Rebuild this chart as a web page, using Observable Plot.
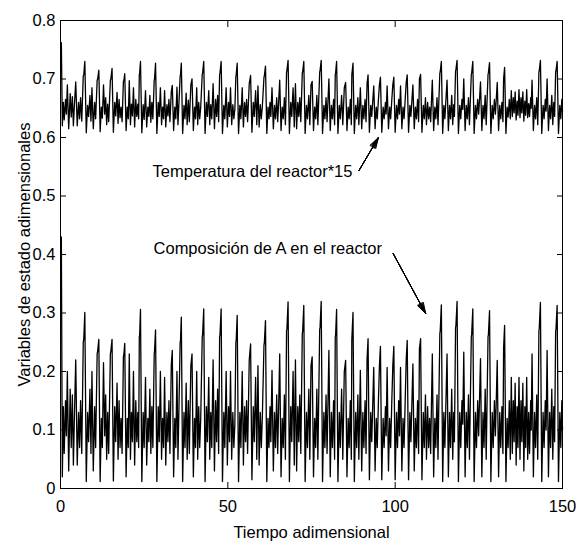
<!DOCTYPE html>
<html>
<head>
<meta charset="utf-8">
<script src="https://cdn.jsdelivr.net/npm/d3@7"></script>
<script src="https://cdn.jsdelivr.net/npm/@observablehq/plot@0.6"></script>
<style>
  html, body { margin: 0; padding: 0; background: #fff; }
  #chart svg { display: block; }
</style>
</head>
<body>
<div id="chart"></div>
<script>
// ---- Tick values and labels ----
const xTicks = [0, 50, 100, 150];
const xTickLabels = ["0", "50", "100", "150"];
const yTicks = [0, 0.1, 0.2, 0.3, 0.4, 0.5, 0.6, 0.7, 0.8];
const yTickLabels = ["0", "0.1", "0.2", "0.3", "0.4", "0.5", "0.6", "0.7", "0.8"];

const xTitle = "Tiempo adimensional";
const yTitle = "Variables de estado adimensionales";

// ---- Time samples (turning points) ----
const tiempo = [
  0.25, 0.55, 0.85, 1.1, 1.5, 1.75, 2.05, 2.45, 2.9, 3.2, 3.55, 3.85, 4.15, 4.55, 5.0, 5.4, 5.7, 6.0, 6.35, 6.8, 6.95, 7.27, 7.7,
  8.1, 8.4, 8.8, 9.1, 9.4, 9.8, 10.2, 10.5, 10.95, 11.1, 11.45, 11.85,
  12.2, 12.5, 12.85, 13.2, 13.5, 13.8, 14.1, 14.4, 14.9, 15.05, 15.4, 15.8,
  16.2, 16.5, 16.9, 17.2, 17.5, 17.8, 18.1, 18.4, 18.8, 18.95, 19.2, 19.6,
  19.95, 20.25, 20.55, 20.9, 21.2, 21.5, 21.8, 22.15, 22.5, 22.8, 23.1, 23.35, 23.55, 23.65, 23.9, 24.3,
  24.7, 25.0, 25.4, 25.75, 26.1, 26.4, 26.7, 27.0, 27.3, 27.6, 28.0, 28.1, 28.4, 28.8,
  29.2, 29.5, 29.85, 30.2, 30.5, 30.8, 31.1, 31.45, 31.8, 32.1, 32.4, 32.7, 33.1, 33.4, 33.8,
  34.15, 34.45, 34.8, 35.1, 35.4, 35.75, 35.85, 36.1, 36.5,
  36.9, 37.2, 37.55, 37.85, 38.2, 38.5, 38.95, 39.3, 39.7,
  40.05, 40.35, 40.7, 41.0, 41.3, 41.6, 41.9, 42.35, 42.45, 42.8, 43.2,
  43.6, 43.9, 44.3, 44.6, 44.9, 45.2, 45.6, 46.0, 46.35, 46.65, 46.95, 47.25, 47.55, 47.65, 48.0, 48.4,
  48.8, 49.1, 49.5, 49.85, 50.2, 50.5, 50.8, 51.15, 51.5, 51.8, 52.1, 52.4, 52.5, 52.8, 53.2,
  53.6, 53.9, 54.3, 54.65, 55.0, 55.3, 55.6, 55.9, 56.4, 56.8, 57.2,
  57.6, 57.9, 58.3, 58.65, 59.0, 59.35, 59.7, 60.0, 60.3, 60.8, 60.9, 61.25, 61.65,
  62.0, 62.3, 62.6, 62.85, 63.2, 63.6,
  63.95, 64.25, 64.6, 64.9, 65.5, 65.9,
  66.25, 66.55, 66.9, 67.2, 67.55, 67.65, 68.0, 68.4,
  68.8, 69.1, 69.5, 69.85, 70.2, 70.55, 70.9, 71.2, 71.5, 71.8, 72.25, 72.35, 72.7, 73.1,
  73.5, 73.8, 74.2, 74.5, 74.85, 75.2, 75.6,
  75.95, 76.25, 76.6, 76.9, 77.45, 77.55, 77.9, 78.3,
  78.7, 79.0, 79.35, 79.65, 80.2, 80.6,
  80.95, 81.25, 81.6, 81.9, 82.1, 82.2, 82.5, 82.9,
  83.3, 83.6, 84.0, 84.35, 84.8, 85.2, 85.6,
  85.95, 86.25, 86.6, 86.9, 87.05, 87.4, 87.8,
  88.2, 88.5, 88.85, 89.15, 89.6, 90.0,
  90.35, 90.65, 91.0, 91.3, 91.6, 91.9, 92.3,
  92.7, 93.0, 93.6, 94.0,
  94.35, 94.65, 95.0, 95.3, 95.6, 96.0,
  96.4, 96.7, 97.1, 97.3, 97.6, 98.0,
  98.35, 98.65, 99.0, 99.3, 99.6, 100.0,
  100.4, 100.7, 101.05, 101.3, 101.6, 102.0,
  102.35, 102.65, 103.0, 103.3, 103.6, 104.0,
  104.4, 104.7, 105.3, 105.7,
  106.05, 106.35, 106.7, 107.0, 107.25, 107.35, 107.6, 108.0,
  108.4, 108.7, 109.05, 109.35, 109.7, 110.0, 110.3, 110.6, 111.1, 111.5,
  111.85, 112.15, 112.5, 112.8, 113.35, 113.45, 113.8, 114.2,
  114.55, 114.85, 115.5, 115.9,
  116.25, 116.55, 116.9, 117.2, 117.5, 117.7, 118.05, 118.15, 118.5, 118.9,
  119.3, 119.6, 119.95, 120.2, 120.5, 120.9,
  121.25, 121.55, 121.9, 122.2, 122.75, 122.85, 123.2, 123.6,
  124.0, 124.3, 124.65, 124.95, 125.5, 125.9,
  126.25, 126.55, 126.9, 127.2, 127.75, 127.85, 128.2, 128.6,
  129.0, 129.3, 129.65, 129.95, 130.5, 130.9,
  131.25, 131.55, 131.9, 132.2, 132.4, 132.7, 133.1,
  133.45, 133.75, 134.1, 134.4, 134.7, 135.0, 135.3, 135.55, 135.85, 136.15, 136.45, 136.7, 137.0, 137.3, 137.6, 137.85, 138.15, 138.45, 138.75, 139.0, 139.3, 139.6, 139.9, 140.15, 140.5, 140.65, 140.9, 141.3,
  141.65, 141.95, 142.3, 142.6, 142.95, 143.05, 143.4, 143.8,
  144.2, 144.5, 144.85, 145.1, 145.4, 145.8,
  146.15, 146.45, 146.8, 147.1, 147.4, 147.65, 147.95, 148.05, 148.4, 148.8,
  149.2, 149.5, 149.8, 150
];

// ---- Composición de A en el reactor ----
const composicion = [
  0.43, 0.02, 0.14, 0.06, 0.15, 0.09, 0.2, 0.03, 0.17, 0.07, 0.16, 0.04, 0.12, 0.22, 0.04, 0.13, 0.07, 0.15, 0.06, 0.25, 0.255, 0.301, 0.012,
  0.13, 0.08, 0.17, 0.06, 0.2, 0.03, 0.14, 0.07, 0.23, 0.235, 0.255, 0.012,
  0.12, 0.07, 0.215, 0.09, 0.16, 0.05, 0.13, 0.06, 0.23, 0.235, 0.255, 0.013,
  0.14, 0.08, 0.18, 0.05, 0.15, 0.07, 0.12, 0.06, 0.225, 0.23, 0.248, 0.02,
  0.12, 0.07, 0.23, 0.05, 0.13, 0.08, 0.2, 0.04, 0.15, 0.08, 0.13, 0.07, 0.26, 0.262, 0.306, 0.012,
  0.13, 0.07, 0.19, 0.04, 0.12, 0.08, 0.17, 0.06, 0.14, 0.07, 0.23, 0.235, 0.271, 0.012,
  0.14, 0.08, 0.2, 0.05, 0.12, 0.07, 0.19, 0.04, 0.13, 0.08, 0.15, 0.06, 0.21, 0.236, 0.02,
  0.12, 0.07, 0.2, 0.05, 0.14, 0.25, 0.252, 0.293, 0.012,
  0.13, 0.07, 0.18, 0.05, 0.15, 0.06, 0.21, 0.23, 0.02,
  0.12, 0.07, 0.2, 0.05, 0.14, 0.07, 0.12, 0.26, 0.262, 0.307, 0.012,
  0.14, 0.08, 0.19, 0.05, 0.13, 0.07, 0.22, 0.03, 0.15, 0.08, 0.17, 0.06, 0.26, 0.262, 0.307, 0.012,
  0.13, 0.07, 0.2, 0.04, 0.14, 0.08, 0.2, 0.05, 0.13, 0.07, 0.11, 0.25, 0.253, 0.296, 0.012,
  0.13, 0.07, 0.2, 0.04, 0.14, 0.08, 0.15, 0.06, 0.22, 0.247, 0.015,
  0.14, 0.08, 0.19, 0.05, 0.21, 0.04, 0.13, 0.07, 0.12, 0.245, 0.248, 0.287, 0.012,
  0.12, 0.07, 0.14, 0.08, 0.202, 0.03,
  0.13, 0.07, 0.16, 0.06, 0.23, 0.02,
  0.12, 0.07, 0.16, 0.05, 0.27, 0.272, 0.319, 0.012,
  0.14, 0.08, 0.2, 0.04, 0.22, 0.03, 0.14, 0.08, 0.16, 0.06, 0.265, 0.268, 0.313, 0.012,
  0.13, 0.07, 0.17, 0.05, 0.21, 0.225, 0.02,
  0.12, 0.07, 0.17, 0.05, 0.272, 0.275, 0.32, 0.012,
  0.13, 0.07, 0.16, 0.06, 0.236, 0.02,
  0.13, 0.07, 0.15, 0.05, 0.26, 0.262, 0.306, 0.012,
  0.13, 0.07, 0.17, 0.05, 0.2, 0.219, 0.02,
  0.12, 0.07, 0.15, 0.05, 0.255, 0.301, 0.012,
  0.13, 0.07, 0.16, 0.05, 0.202, 0.03,
  0.13, 0.07, 0.15, 0.06, 0.22, 0.256, 0.015,
  0.13, 0.08, 0.207, 0.03,
  0.12, 0.07, 0.15, 0.21, 0.243, 0.015,
  0.12, 0.07, 0.14, 0.09, 0.207, 0.03,
  0.12, 0.07, 0.15, 0.21, 0.243, 0.015,
  0.13, 0.07, 0.15, 0.09, 0.207, 0.03,
  0.12, 0.07, 0.15, 0.22, 0.253, 0.015,
  0.13, 0.08, 0.213, 0.03,
  0.12, 0.07, 0.15, 0.06, 0.24, 0.243, 0.256, 0.015,
  0.13, 0.07, 0.16, 0.05, 0.14, 0.07, 0.12, 0.06, 0.23, 0.02,
  0.12, 0.07, 0.16, 0.05, 0.265, 0.268, 0.314, 0.012,
  0.13, 0.07, 0.23, 0.02,
  0.13, 0.07, 0.17, 0.05, 0.13, 0.08, 0.275, 0.278, 0.32, 0.012,
  0.13, 0.07, 0.15, 0.11, 0.233, 0.02,
  0.13, 0.07, 0.16, 0.05, 0.26, 0.263, 0.307, 0.012,
  0.13, 0.07, 0.15, 0.09, 0.222, 0.02,
  0.13, 0.07, 0.17, 0.05, 0.26, 0.262, 0.304, 0.012,
  0.13, 0.07, 0.15, 0.09, 0.219, 0.02,
  0.13, 0.07, 0.14, 0.06, 0.24, 0.279, 0.012,
  0.12, 0.07, 0.15, 0.05, 0.19, 0.06, 0.15, 0.08, 0.18, 0.04, 0.14, 0.07, 0.19, 0.05, 0.15, 0.08, 0.18, 0.03, 0.14, 0.07, 0.19, 0.05, 0.13, 0.06, 0.15, 0.1, 0.23, 0.02,
  0.13, 0.07, 0.16, 0.05, 0.27, 0.273, 0.318, 0.012,
  0.13, 0.07, 0.15, 0.1, 0.236, 0.02,
  0.13, 0.07, 0.17, 0.05, 0.14, 0.08, 0.27, 0.272, 0.313, 0.012,
  0.13, 0.07, 0.15, 0.1
];

// ---- Temperatura del reactor (x15) ----
const temperatura = [
  0.762, 0.62, 0.66, 0.63, 0.665, 0.64, 0.69, 0.615, 0.675, 0.635, 0.67, 0.62, 0.655, 0.695, 0.62, 0.66, 0.632, 0.668, 0.628, 0.705, 0.707, 0.73, 0.608,
  0.655, 0.636, 0.672, 0.628, 0.685, 0.615, 0.66, 0.632, 0.698, 0.7, 0.715, 0.61,
  0.652, 0.633, 0.69, 0.64, 0.668, 0.622, 0.657, 0.627, 0.698, 0.7, 0.718, 0.609,
  0.66, 0.637, 0.677, 0.624, 0.665, 0.634, 0.652, 0.627, 0.696, 0.698, 0.709, 0.612,
  0.652, 0.632, 0.697, 0.622, 0.657, 0.637, 0.685, 0.618, 0.665, 0.636, 0.657, 0.632, 0.708, 0.71, 0.73, 0.608,
  0.656, 0.631, 0.68, 0.618, 0.652, 0.636, 0.672, 0.626, 0.66, 0.632, 0.698, 0.7, 0.727, 0.607,
  0.66, 0.636, 0.685, 0.622, 0.652, 0.632, 0.68, 0.618, 0.656, 0.637, 0.665, 0.627, 0.678, 0.689, 0.612,
  0.652, 0.632, 0.686, 0.622, 0.66, 0.705, 0.707, 0.727, 0.607,
  0.655, 0.632, 0.676, 0.622, 0.664, 0.627, 0.69, 0.7, 0.612,
  0.652, 0.632, 0.685, 0.622, 0.66, 0.632, 0.652, 0.708, 0.71, 0.73, 0.607,
  0.66, 0.636, 0.68, 0.622, 0.656, 0.632, 0.692, 0.615, 0.665, 0.636, 0.672, 0.627, 0.708, 0.71, 0.73, 0.607,
  0.655, 0.632, 0.685, 0.618, 0.66, 0.636, 0.685, 0.622, 0.656, 0.632, 0.648, 0.705, 0.707, 0.727, 0.607,
  0.655, 0.632, 0.685, 0.618, 0.66, 0.636, 0.665, 0.627, 0.692, 0.706, 0.609,
  0.66, 0.636, 0.68, 0.622, 0.688, 0.618, 0.656, 0.632, 0.652, 0.703, 0.705, 0.722, 0.607,
  0.652, 0.632, 0.66, 0.636, 0.685, 0.615,
  0.655, 0.632, 0.668, 0.627, 0.698, 0.612,
  0.652, 0.632, 0.668, 0.622, 0.712, 0.714, 0.732, 0.607,
  0.66, 0.636, 0.685, 0.618, 0.692, 0.615, 0.66, 0.636, 0.668, 0.627, 0.71, 0.712, 0.73, 0.607,
  0.655, 0.632, 0.672, 0.622, 0.69, 0.696, 0.612,
  0.652, 0.632, 0.672, 0.622, 0.712, 0.714, 0.732, 0.607,
  0.655, 0.632, 0.668, 0.627, 0.7, 0.612,
  0.655, 0.632, 0.665, 0.622, 0.708, 0.71, 0.73, 0.607,
  0.655, 0.632, 0.672, 0.622, 0.685, 0.694, 0.612,
  0.652, 0.632, 0.665, 0.622, 0.707, 0.727, 0.607,
  0.655, 0.632, 0.668, 0.622, 0.685, 0.615,
  0.655, 0.632, 0.665, 0.627, 0.692, 0.707, 0.609,
  0.655, 0.636, 0.688, 0.615,
  0.652, 0.632, 0.665, 0.69, 0.703, 0.609,
  0.652, 0.632, 0.66, 0.64, 0.688, 0.615,
  0.652, 0.632, 0.665, 0.69, 0.703, 0.609,
  0.655, 0.632, 0.665, 0.64, 0.688, 0.615,
  0.652, 0.632, 0.665, 0.694, 0.707, 0.609,
  0.655, 0.636, 0.69, 0.615,
  0.652, 0.632, 0.665, 0.627, 0.7, 0.702, 0.708, 0.609,
  0.655, 0.632, 0.668, 0.622, 0.66, 0.632, 0.652, 0.627, 0.698, 0.612,
  0.652, 0.632, 0.668, 0.622, 0.71, 0.712, 0.73, 0.607,
  0.655, 0.632, 0.698, 0.612,
  0.655, 0.632, 0.672, 0.622, 0.656, 0.636, 0.714, 0.716, 0.732, 0.607,
  0.655, 0.632, 0.665, 0.648, 0.7, 0.612,
  0.655, 0.632, 0.668, 0.622, 0.708, 0.71, 0.73, 0.607,
  0.655, 0.632, 0.665, 0.64, 0.695, 0.612,
  0.655, 0.632, 0.672, 0.622, 0.708, 0.71, 0.728, 0.607,
  0.655, 0.632, 0.665, 0.64, 0.694, 0.612,
  0.655, 0.632, 0.66, 0.627, 0.7, 0.72, 0.607,
  0.652, 0.635, 0.665, 0.632, 0.68, 0.636, 0.668, 0.642, 0.678, 0.63, 0.662, 0.638, 0.682, 0.634, 0.668, 0.642, 0.678, 0.628, 0.662, 0.638, 0.682, 0.634, 0.658, 0.636, 0.668, 0.65, 0.698, 0.612,
  0.655, 0.632, 0.668, 0.622, 0.712, 0.714, 0.732, 0.607,
  0.655, 0.632, 0.665, 0.645, 0.7, 0.612,
  0.655, 0.632, 0.672, 0.622, 0.66, 0.636, 0.712, 0.714, 0.73, 0.607,
  0.655, 0.632, 0.665, 0.645
];

// ---- Annotations ----
const annotLabels = ["Temperatura del reactor*15", "Composición de A en el reactor"];
const annotX = [27.5, 27.8];
const annotY = [0.542, 0.410];
const arrowX1 = [89.2, 99.4];
const arrowY1 = [0.5436, 0.4017];
const arrowX2 = [95.0, 109.1];
const arrowY2 = [0.600, 0.299];

if (tiempo.length !== composicion.length || tiempo.length !== temperatura.length) {
  console.error("length mismatch", tiempo.length, composicion.length, temperatura.length);
}

const compRows = tiempo.map((t, i) => ({t, v: composicion[i]}));
const tempRows = tiempo.map((t, i) => ({t, v: temperatura[i]}));
const annots = annotLabels.map((label, i) => ({label, x: annotX[i], y: annotY[i]}));
const arrows = arrowX1.map((x1, i) => ({x1, y1: arrowY1[i], x2: arrowX2[i], y2: arrowY2[i]}));

const FONT = "'Liberation Sans', Arial, Helvetica, sans-serif";
const FS = 16.5;
const xFmt = d => xTickLabels[xTicks.indexOf(d)];
const yFmt = d => yTickLabels[yTicks.findIndex(v => Math.abs(v - d) < 1e-9)];

const headAngles = [34, 26, 18, 10, 3];

const chart = Plot.plot({
  width: 576,
  height: 546,
  marginLeft: 60,
  marginRight: 14,
  marginTop: 20,
  marginBottom: 58,
  x: {domain: [0, 150]},
  y: {domain: [0, 0.8]},
  style: {fontFamily: FONT, fontSize: FS + "px", background: "#fff", color: "#000", overflow: "visible"},
  marks: [
    Plot.line(compRows, {x: "t", y: "v", stroke: "#000", strokeWidth: 1.3}),
    Plot.line(tempRows, {x: "t", y: "v", stroke: "#000", strokeWidth: 1.3}),
    Plot.frame({stroke: "#000", strokeWidth: 1}),
    // tick labels
    Plot.axisX({ticks: xTicks, tickSize: 0, tickPadding: 12, tickFormat: xFmt, label: null, fontSize: FS, fill: "#000"}),
    Plot.axisY({ticks: yTicks, tickSize: 0, tickPadding: 5, tickFormat: yFmt, label: null, fontSize: FS, fill: "#000"}),
    // inward ticks on all four sides
    Plot.axisX({ticks: xTicks, anchor: "bottom", tickSize: 6, dy: -6, fill: "none", label: null, stroke: "#000"}),
    Plot.axisX({ticks: xTicks, anchor: "top", tickSize: 6, dy: 6, fill: "none", label: null, stroke: "#000"}),
    Plot.axisY({ticks: yTicks, anchor: "left", tickSize: 6, dx: 6, fill: "none", label: null, stroke: "#000"}),
    Plot.axisY({ticks: yTicks, anchor: "right", tickSize: 6, dx: -6, fill: "none", label: null, stroke: "#000"}),
    // axis titles
    Plot.text([xTitle], {text: d => d, frameAnchor: "bottom", dy: 44, textAnchor: "middle", lineAnchor: "middle", fontSize: FS, fill: "#000"}),
    Plot.text([yTitle], {text: d => d, frameAnchor: "left", dx: -36, rotate: -90, textAnchor: "middle", lineAnchor: "middle", fontSize: FS, fill: "#000"}),
    // annotations
    Plot.text(annots, {x: "x", y: "y", text: "label", textAnchor: "start", lineAnchor: "middle", fontSize: FS, fill: "#000"}),
    ...headAngles.map(a => Plot.arrow(arrows, {x1: "x1", y1: "y1", x2: "x2", y2: "y2", stroke: "#000", strokeWidth: 1, headAngle: a, headLength: 17}))
  ]
});

document.getElementById("chart").appendChild(chart);
</script>
</body>
</html>
